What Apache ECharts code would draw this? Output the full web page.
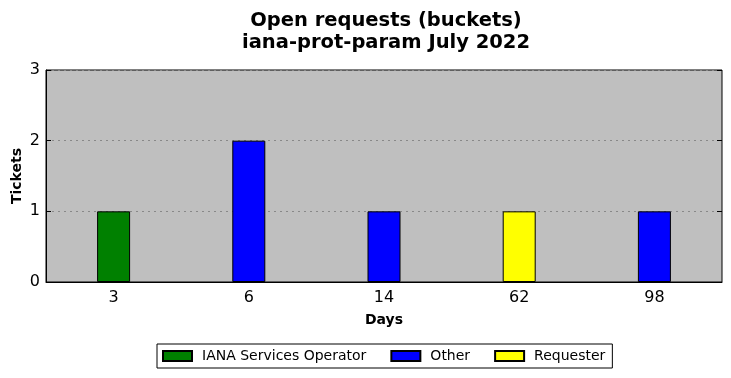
<!DOCTYPE html>
<html>
<head>
<meta charset="utf-8">
<script src="https://cdn.jsdelivr.net/npm/echarts@6/dist/echarts.min.js"></script>
<style>html,body{margin:0;padding:0;background:#fff;}#c{width:731px;height:378px;}</style>
</head>
<body>
<div id="c"></div>
<script>
const categories = ['3', '6', '14', '62', '98'];
const ianaServicesOperator = [1, null, null, null, null];
const other = [null, 2, 1, null, 1];
const requester = [null, null, null, 1, null];
const yTicks = [0, 1, 2, 3];

const chart = echarts.init(document.getElementById('c'), null, {renderer: 'canvas'});
const font = 'DejaVu Sans';
const barBase = {type: 'bar', stack: 'total', barWidth: 33, xAxisIndex: 0, yAxisIndex: 0};
chart.setOption({
  animation: false,
  backgroundColor: '#fff',
  textStyle: {fontFamily: font},
  title: {
    text: 'Open requests (buckets)\niana-prot-param July 2022',
    left: 381, textAlign: 'center', top: 5,
    textStyle: {fontFamily: font, fontSize: 19.5, fontWeight: 'bold', color: '#000', lineHeight: 22}
  },
  legend: {
    bottom: 10, left: 157,
    itemWidth: 29, itemHeight: 10, itemGap: 24,
    borderColor: '#000', borderWidth: 1, padding: [5, 7, 5, 5],
    borderRadius: 0,
    icon: 'rect',
    textStyle: {fontFamily: font, fontSize: 14, color: '#000', padding: [0, 0, 0, 5]},
    data: ['IANA Services Operator', 'Other', 'Requester']
  },
  grid: {left: 46, right: 9, top: 70, bottom: 96, show: true, backgroundColor: '#bfbfbf', borderColor: '#000', borderWidth: 1, outerBoundsMode: 'none', containLabel: false},
  xAxis: [{
    type: 'category', data: categories, position: 'bottom',
    name: 'Days', nameLocation: 'middle', nameGap: 31, nameMoveOverlap: false,
    nameTextStyle: {fontFamily: font, fontSize: 14, fontWeight: 'bold', color: '#000'},
    axisLine: {lineStyle: {color: '#000'}},
    axisTick: {inside: true, alignWithLabel: true, length: 5, lineStyle: {color: '#000'}},
    axisLabel: {fontFamily: font, fontSize: 16, color: '#000', margin: 8},
    splitLine: {show: false}
  }, {
    type: 'category', data: categories, position: 'top',
    axisLine: {show: false},
    axisTick: {inside: true, alignWithLabel: true, length: 5, lineStyle: {color: '#000'}},
    axisLabel: {show: false}
  }],
  yAxis: [{
    type: 'value', min: yTicks[0], max: yTicks[yTicks.length - 1], interval: 1,
    name: 'Tickets', nameLocation: 'middle', nameGap: 22, nameMoveOverlap: false,
    nameTextStyle: {fontFamily: font, fontSize: 14, fontWeight: 'bold', color: '#000'},
    axisLine: {show: true, lineStyle: {color: '#000'}},
    axisTick: {show: true, inside: true, length: 5, lineStyle: {color: '#000'}},
    axisLabel: {fontFamily: font, fontSize: 16, color: '#000', margin: 6},
    splitLine: {show: true, lineStyle: {color: '#888', type: [2, 4], width: 1}}
  }, {
    type: 'value', min: yTicks[0], max: yTicks[yTicks.length - 1], interval: 1, position: 'right',
    axisLine: {show: false},
    axisTick: {show: true, inside: true, length: 5, lineStyle: {color: '#000'}},
    axisLabel: {show: false},
    splitLine: {show: false}
  }],
  series: [
    Object.assign({}, barBase, {name: 'IANA Services Operator', data: ianaServicesOperator, itemStyle: {color: '#008000', borderColor: '#000', borderWidth: 1}}),
    Object.assign({}, barBase, {name: 'Other', data: other, itemStyle: {color: '#0000ff', borderColor: '#000', borderWidth: 1}}),
    Object.assign({}, barBase, {name: 'Requester', data: requester, itemStyle: {color: '#ffff00', borderColor: '#000', borderWidth: 1}})
  ]
});
</script>
</body>
</html>
